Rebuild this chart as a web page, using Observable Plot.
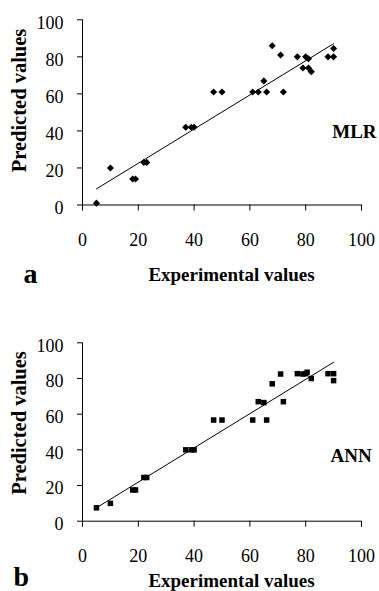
<!DOCTYPE html>
<html>
<head>
<meta charset="utf-8">
<script src="https://cdn.jsdelivr.net/npm/d3@7"></script>
<script src="https://cdn.jsdelivr.net/npm/@observablehq/plot@0.6"></script>
<style>
  html, body { margin: 0; padding: 0; background: #fff; }
  #chart svg { display: block; }
  #chart svg, #chart svg text { font-family: "Liberation Serif", "Times New Roman", Times, serif !important; }
</style>
</head>
<body>
<div id="chart"></div>
<script>
// ---- Data ----
const xTicks = [0, 20, 40, 60, 80, 100];
const yTicks = [0, 20, 40, 60, 80, 100];

// Panel a: MLR
const mlrExp  = [5, 10, 18, 19, 22, 23, 37, 39, 40, 47, 50, 61, 63, 65, 66, 68, 71, 72, 77, 79, 80, 81, 81, 82, 88, 90, 90];
const mlrPred = [1, 20, 14, 14, 23, 23, 42, 42, 42, 61, 61, 61, 61, 67, 61, 86, 81, 61, 80, 74, 80, 79, 74, 72, 80, 80, 84.5];
const mlrLineX = [5, 90];
const mlrLineY = [8.7, 87.1];

// Panel b: ANN
const annExp  = [5, 10, 18, 19, 22, 23, 37, 39, 40, 47, 50, 61, 63, 65, 66, 68, 71, 72, 77, 79, 80, 80.5, 82, 88, 90, 90];
const annPred = [7.5, 10, 17.5, 17.5, 24.5, 24.5, 40, 40, 40, 56.7, 56.7, 56.7, 67, 66.5, 56.7, 77, 82.5, 67, 82.7, 82.5, 82.7, 83.5, 80, 82.7, 82.7, 78.8];
const annLineX = [5, 90];
const annLineY = [7.5, 89.1];

const xLabel = "Experimental values";
const yLabel = "Predicted values";

const FONT = "'Liberation Serif', 'Times New Roman', Times, serif";

function panel(cfg) {
  const pts = cfg.exp.map((x, i) => ({x, y: cfg.pred[i]}));
  const line = cfg.lineX.map((x, i) => ({x, y: cfg.lineY[i]}));
  return Plot.plot({
    width: 379,
    height: cfg.height,
    marginTop: cfg.marginTop,
    marginBottom: cfg.marginBottom,
    marginLeft: 82,
    marginRight: 18,
    style: {fontFamily: FONT, fontSize: "18px", background: "white", color: "black", overflow: "visible"},
    x: {domain: [0, 100]},
    y: {domain: [0, 100]},
    marks: [
      Plot.ruleX([0], {stroke: "black"}),
      Plot.ruleY([0], {stroke: "black"}),
      Plot.axisX({ticks: xTicks, tickSize: 6, tickPadding: 22, tickFormat: d => String(d), label: null, fontSize: 18}),
      Plot.axisY({ticks: yTicks, tickSize: 5, tickFormat: () => "", label: null}),
      Plot.axisY({ticks: yTicks, tickSize: 0, tickPadding: 19, dy: 3, tickFormat: d => String(d), label: null, fontSize: 18}),
      Plot.line(line, {x: "x", y: "y", stroke: "black", strokeWidth: 1}),
      Plot.dot(pts, {x: "x", y: "y", symbol: cfg.symbol, r: cfg.r, fill: "black", stroke: "none"}),
      Plot.text([xLabel], {text: d => d, frameAnchor: "bottom", textAnchor: "middle", lineAnchor: "bottom",
        dx: 9.5, dy: cfg.xLabelDy, fontWeight: "bold", fontSize: 19}),
      Plot.text([yLabel], {text: d => d, frameAnchor: "left", textAnchor: "middle", lineAnchor: "bottom",
        rotate: -90, dx: -57, dy: cfg.yLabelDy, fontWeight: "bold", fontSize: 20.5}),
      Plot.text([cfg.letter], {text: d => d, frameAnchor: "bottom-left", textAnchor: "start", lineAnchor: "bottom",
        dx: cfg.letterDx, dy: cfg.letterDy, fontWeight: "bold", fontSize: 28}),
      Plot.text([cfg.name], {text: d => d, frameAnchor: "top-right", textAnchor: "start", lineAnchor: "bottom",
        dx: cfg.nameDx, dy: cfg.nameDy, fontWeight: "bold", fontSize: 19})
    ]
  });
}

const chart = document.getElementById("chart");
chart.appendChild(panel({
  exp: mlrExp, pred: mlrPred, lineX: mlrLineX, lineY: mlrLineY,
  symbol: "diamond2", r: 3.2, name: "MLR", letter: "a",
  height: 296, marginTop: 19.3, marginBottom: 91.5,
  xLabelDy: 75.5, yLabelDy: -11.9, letterDx: -59, letterDy: 77.5, nameDx: -29.3, nameDy: 118
}));
chart.appendChild(panel({
  exp: annExp, pred: annPred, lineX: annLineX, lineY: annLineY,
  symbol: "square", r: 3.1, name: "ANN", letter: "b",
  height: 295, marginTop: 46.3, marginBottom: 70.3,
  xLabelDy: 65.5, yLabelDy: -9, letterDx: -69, letterDy: 65, nameDx: -31, nameDy: 119.4
}));
</script>
</body>
</html>
